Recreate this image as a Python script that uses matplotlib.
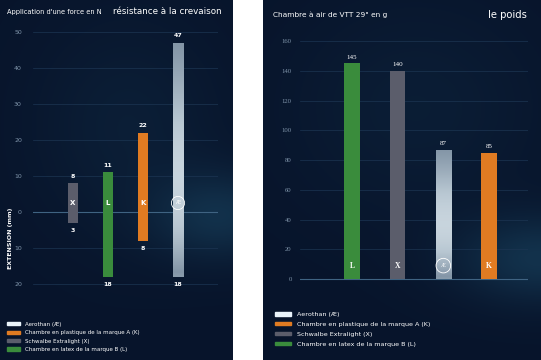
import matplotlib.pyplot as plt
import numpy as np
from matplotlib.patches import Patch
from matplotlib.colors import LinearSegmentedColormap

# --- Data ---
letters = ['X', 'L', 'K', 'Æ']
ext_top = [8, 11, 22, 47]          # extension above 0 (mm)
ext_bottom = [-3, -18, -8, -18]    # extension below 0 (mm)

weight_letters = ['L', 'X', 'Æ', 'K']
weights = [145, 140, 87, 85]       # g

legend_labels = ['Aerothan (Æ)', 'Chambre en plastique de la marque A (K)',
                 'Schwalbe Extralight (X)', 'Chambre en latex de la marque B (L)']
legend_keys = ['Æ', 'K', 'X', 'L']

colors = {'X': '#5b5d6b', 'L': '#3a8c3c', 'K': '#e07b22', 'Æ': '#a9b8c5'}
legend_colors = {'X': '#5b5d6b', 'L': '#3a8c3c', 'K': '#e07b22', 'Æ': '#eaf4fb'}
ae_cmap = LinearSegmentedColormap.from_list('ae', ['#8496a7', '#b8c7d2', '#dfe8ee'])

W, H = 541, 360
fig = plt.figure(figsize=(W / 100, H / 100), dpi=100, facecolor='white')


def px_axes(x0, y0, x1, y1, **kw):
    return fig.add_axes([x0 / W, 1 - y1 / H, (x1 - x0) / W, (y1 - y0) / H], **kw)


def background(x0, x1, blobs):
    ax = px_axes(x0, 0, x1, H)
    ax.set_axis_off()
    nx, ny = 200, 260
    xx, yy = np.meshgrid(np.linspace(0, 1, nx), np.linspace(0, 1, ny))
    base = np.array([0.03, 0.08, 0.17])
    glow = np.array([0.10, 0.27, 0.38])
    w = np.zeros_like(xx)
    for cx, cy, sx, sy, a in blobs:
        w += a * np.exp(-(((xx - cx) / sx) ** 2 + ((yy - cy) / sy) ** 2))
    w = np.clip(w, 0, 1)[..., None]
    img = base * (1 - w) + glow * w
    ax.imshow(img, extent=[0, 1, 1, 0], aspect='auto')
    ax.set_xlim(0, 1)
    ax.set_ylim(1, 0)


background(0, 233, [(0.95, 0.6, 0.3, 0.12, 0.55), (0.55, 0.35, 0.4, 0.3, 0.2)])
background(263, W, [(1.0, 0.72, 0.3, 0.12, 0.6), (0.55, 0.3, 0.45, 0.3, 0.18)])

grid_c = '#1c3552'
tick_c = '#7f94aa'


def ae_fill(ax, bar, x, w, b, t):
    grad = np.abs(np.sin(np.linspace(0, 3.2, 120)))[:, None] * np.linspace(0.35, 1, 120)[:, None]
    im = ax.imshow(grad, cmap=ae_cmap, vmin=0, vmax=1, extent=[x - w / 2, x + w / 2, b, t],
                   aspect='auto', zorder=2.5)
    im.set_clip_path(bar)


# --- Left chart: résistance à la crevaison ---
ax1 = px_axes(33, 24.8, 218, 291.2)
ax1.patch.set_alpha(0)
ax1.set_xlim(-1.143, 4.143)
ax1.set_ylim(-22, 52)
ticks1 = [-20, -10, 0, 10, 20, 30, 40, 50]
ax1.set_yticks(ticks1)
ax1.set_yticklabels([str(abs(v)) for v in ticks1])
ax1.tick_params(axis='y', colors=tick_c, labelsize=4.5, length=0, pad=8)
ax1.set_xticks([])
for s in ax1.spines.values():
    s.set_visible(False)
for v in [-20, -10, 10, 20, 30, 40, 50]:
    ax1.axhline(v, color=grid_c, lw=0.5, zorder=0)
ax1.axhline(0, color='#3f6382', lw=0.8, zorder=0)

bw = 0.29
for i, (lt, t, b) in enumerate(zip(letters, ext_top, ext_bottom)):
    bar = ax1.bar(i, t - b, bottom=b, width=bw, color=colors[lt], zorder=2)[0]
    if lt == 'Æ':
        ae_fill(ax1, bar, i, bw, b, t)
    ax1.text(i, t + 1.3, str(abs(t)), color='white', fontsize=4.5, fontweight='bold',
             ha='center', va='bottom', zorder=3)
    ax1.text(i, b - 1.5, str(abs(b)), color='white', fontsize=4.5, fontweight='bold',
             ha='center', va='top', zorder=3)
    if lt == 'Æ':
        ax1.text(i, 2.5, 'Æ', color='white', fontsize=4, ha='center', va='center', zorder=4)
        ax1.scatter([i], [2.5], s=90, facecolors='none', edgecolors='white', linewidths=0.6,
                    zorder=4)
    else:
        ax1.text(i, 2.5, lt, color='white', fontsize=5, fontweight='bold',
                 ha='center', va='center', zorder=4)
ax1.set_ylabel('EXTENSION (mm)', color='white', fontsize=4.5, fontweight='bold')
ax1.yaxis.set_label_coords(-0.11, 0.2)

fig.text(7 / W, 1 - 12 / H, "Application d'une force en N", color='white', fontsize=4.8,
         va='center', ha='left')
fig.text(222 / W, 1 - 12 / H, 'résistance à la crevaison', color='white', fontsize=6.3,
         va='center', ha='right')

h1 = [Patch(color=legend_colors[k]) for k in legend_keys]
fig.legend(h1, legend_labels, loc='upper left', bbox_to_anchor=(4 / W, 1 - 319 / H),
           frameon=False, fontsize=4, labelcolor='white', handlelength=2.4,
           handleheight=0.55, labelspacing=0.62, handletextpad=0.8, borderpad=0)

# --- Right chart: le poids ---
ax2 = px_axes(300, 35.05, 528, 281.975)
ax2.patch.set_alpha(0)
ax2.set_xlim(-1.139, 3.854)
ax2.set_ylim(-2, 164)
ax2.set_yticks(np.arange(0, 161, 20))
ax2.tick_params(axis='y', colors=tick_c, labelsize=4.8, length=0, pad=6)
for lab in ax2.get_yticklabels():
    lab.set_family('Liberation Serif')
ax2.set_xticks([])
for s in ax2.spines.values():
    s.set_visible(False)
for v in np.arange(20, 161, 20):
    ax2.axhline(v, color=grid_c, lw=0.5, zorder=0)
ax2.axhline(0, color='#3f6382', lw=0.8, zorder=0)

bw2 = 0.33
for i, (lt, v) in enumerate(zip(weight_letters, weights)):
    bar = ax2.bar(i, v, width=bw2, color=colors[lt], zorder=2)[0]
    if lt == 'Æ':
        ae_fill(ax2, bar, i, bw2, 0, v)
    ax2.text(i, v + 2.5, str(v), color='white', fontsize=5, family='Liberation Serif',
             ha='center', va='bottom', zorder=3)
    if lt == 'Æ':
        ax2.text(i, 9, 'Æ', color='white', fontsize=4, family='Liberation Serif',
                 ha='center', va='center', zorder=4)
        ax2.scatter([i], [9], s=110, facecolors='none', edgecolors='white', linewidths=0.6,
                    zorder=4)
    else:
        ax2.text(i, 9, lt, color='white', fontsize=5.5, family='Liberation Serif',
                 fontweight='bold', ha='center', va='center', zorder=4)

fig.text(273 / W, 1 - 15 / H, 'Chambre à air de VTT 29" en g', color='white', fontsize=5.3,
         va='center', ha='left')
fig.text(527 / W, 1 - 15 / H, 'le poids', color='white', fontsize=7.2,
         va='center', ha='right')

h2 = [Patch(color=legend_colors[k]) for k in legend_keys]
fig.legend(h2, legend_labels, loc='upper left', bbox_to_anchor=(272 / W, 1 - 309 / H),
           frameon=False, fontsize=4.6, labelcolor='white', handlelength=2.4,
           handleheight=0.45, labelspacing=0.75, handletextpad=1.0, borderpad=0)

fig.savefig('out.png', dpi=100, facecolor='white')
